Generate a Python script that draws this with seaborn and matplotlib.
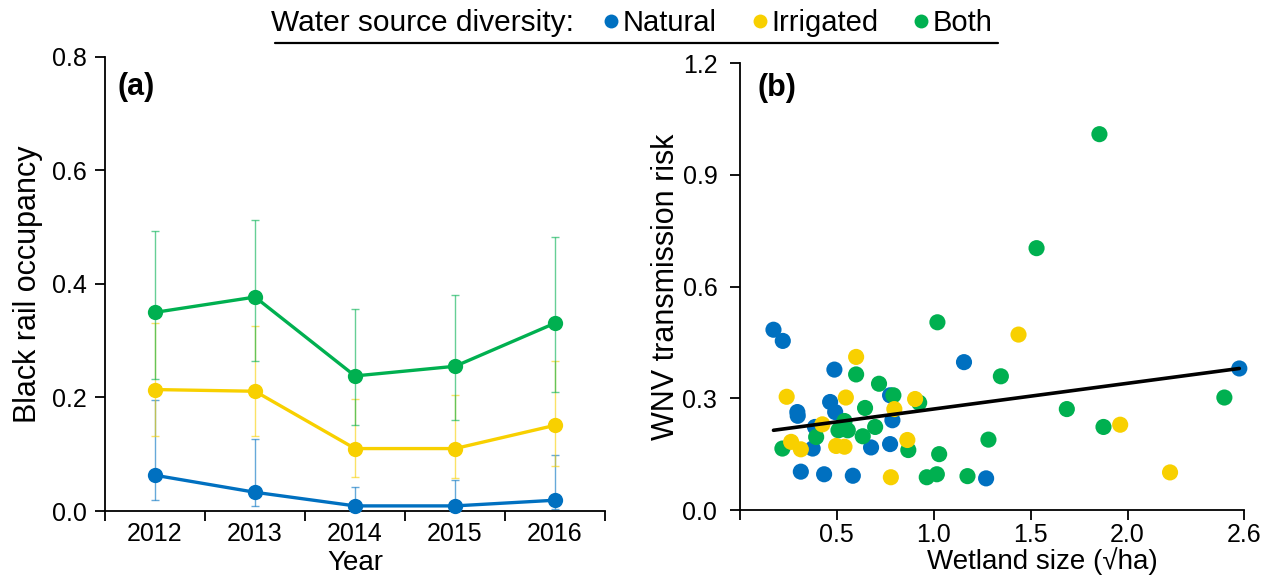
import numpy as np
import pandas as pd
import matplotlib
matplotlib.use("Agg")
import matplotlib.pyplot as plt
from matplotlib.lines import Line2D
import seaborn as sns

# ---------------- data ----------------
years = [2012, 2013, 2014, 2015, 2016]
sources = ["Natural", "Irrigated", "Both"]
colors = {"Natural": "#0070C0", "Irrigated": "#F8D000", "Both": "#00B050"}

occ_natural = [0.063, 0.033, 0.009, 0.009, 0.019]
occ_natural_lo = [0.019, 0.009, 0.001, 0.001, 0.003]
occ_natural_hi = [0.195, 0.126, 0.042, 0.055, 0.098]

occ_irrigated = [0.214, 0.211, 0.110, 0.110, 0.151]
occ_irrigated_lo = [0.132, 0.132, 0.060, 0.058, 0.079]
occ_irrigated_hi = [0.331, 0.326, 0.198, 0.204, 0.265]

occ_both = [0.350, 0.377, 0.238, 0.255, 0.331]
occ_both_lo = [0.233, 0.264, 0.151, 0.160, 0.209]
occ_both_hi = [0.493, 0.512, 0.356, 0.381, 0.483]

wet_natural = [0.175, 0.223, 0.489, 0.298, 0.300, 0.467, 0.493, 0.389, 0.377, 0.776,
               0.788, 0.678, 0.776, 0.316, 0.436, 0.584, 1.157, 1.271, 2.576]
wnv_natural = [0.484, 0.454, 0.377, 0.263, 0.253, 0.290, 0.263, 0.223, 0.165, 0.308,
               0.241, 0.168, 0.177, 0.103, 0.096, 0.092, 0.397, 0.085, 0.380]

wet_irrigated = [0.601, 0.243, 0.548, 0.905, 0.798, 0.427, 0.266, 0.316, 0.498, 0.541,
                 0.865, 0.780, 1.438, 1.962, 2.219]
wnv_irrigated = [0.411, 0.304, 0.302, 0.298, 0.271, 0.230, 0.183, 0.163, 0.172, 0.170,
                 0.188, 0.088, 0.471, 0.229, 0.101]

wet_both = [1.020, 0.601, 0.719, 0.793, 0.926, 0.647, 0.541, 1.347, 0.699, 0.510,
            0.558, 0.395, 0.635, 0.221, 0.870, 1.029, 1.283, 0.965, 1.017, 1.175,
            1.687, 1.876, 2.499, 1.855, 1.531]
wnv_both = [0.504, 0.364, 0.339, 0.308, 0.288, 0.274, 0.239, 0.359, 0.223, 0.214,
            0.214, 0.196, 0.198, 0.165, 0.161, 0.150, 0.189, 0.088, 0.096, 0.091,
            0.271, 0.223, 0.302, 1.009, 0.703]

fit_intercept = 0.202
fit_slope = 0.0691

a_yticks = [0.0, 0.2, 0.4, 0.6, 0.8]
b_yticks = [0.0, 0.3, 0.6, 0.9, 1.2]
b_xticks = [0.0, 0.5, 1.0, 1.5, 2.0, 2.6]
b_xticklabels = ["", "0.5", "1.0", "1.5", "2.0", "2.6"]

# ---------------- tables ----------------
occ = {"Natural": (occ_natural, occ_natural_lo, occ_natural_hi),
       "Irrigated": (occ_irrigated, occ_irrigated_lo, occ_irrigated_hi),
       "Both": (occ_both, occ_both_lo, occ_both_hi)}
rows = []
for s in sources:
    m, lo, hi = occ[s]
    for y, v, l, h in zip(years, m, lo, hi):
        rows.append({"year": y, "source": s, "occ": v, "lo": l, "hi": h})
dfa = pd.DataFrame(rows)

dfb = pd.concat([
    pd.DataFrame({"wet": wet_natural, "wnv": wnv_natural, "source": "Natural"}),
    pd.DataFrame({"wet": wet_both, "wnv": wnv_both, "source": "Both"}),
    pd.DataFrame({"wet": wet_irrigated, "wnv": wnv_irrigated, "source": "Irrigated"}),
], ignore_index=True)

# ---------------- style ----------------
sns.set_style("ticks")
plt.rcParams["font.family"] = ["Liberation Sans", "DejaVu Sans"]
plt.rcParams["axes.linewidth"] = 1.3
for k in ["text.color", "axes.labelcolor", "xtick.color", "ytick.color",
          "axes.edgecolor"]:
    plt.rcParams[k] = "black"

TICK_FS = 18
XLAB_FS = 20
YLAB_FS = 22
LEG_FS = 21

fig = plt.figure(figsize=(12.7, 5.75), dpi=100)
axa = fig.add_axes([0.0827, 0.1113, 0.3937, 0.7896])
axb = fig.add_axes([0.5823, 0.1130, 0.3972, 0.7774])

# ---------------- panel a ----------------
for s in sources:
    d = dfa[dfa.source == s]
    axa.errorbar(d["year"], d["occ"],
                 yerr=[d["occ"] - d["lo"], d["hi"] - d["occ"]],
                 fmt="none", ecolor=colors[s], alpha=0.6, elinewidth=1.0,
                 capsize=3, capthick=1.0, zorder=1, clip_on=False)
sns.lineplot(data=dfa, x="year", y="occ", hue="source", hue_order=sources,
             palette=colors, marker="o", markersize=11, markeredgewidth=0,
             linewidth=2.4, legend=False, ax=axa, zorder=3, clip_on=False)

axa.set_xlim(2011.5, 2016.5)
axa.set_ylim(0, 0.8)
axa.set_xticks(years)
axa.set_xticklabels([str(y) for y in years])
axa.set_xticks([y - 0.5 for y in years] + [years[-1] + 0.5], minor=True)
axa.tick_params(axis="x", which="major", length=0, pad=8, labelsize=TICK_FS)
axa.tick_params(axis="x", which="minor", length=7, width=1.3, direction="out")
axa.set_yticks(a_yticks)
axa.set_yticklabels([f"{v:.1f}" for v in a_yticks])
axa.tick_params(axis="y", length=7, width=1.3, pad=6, labelsize=TICK_FS)
axa.set_xlabel("Year", fontsize=XLAB_FS)
axa.set_ylabel("Black rail occupancy", fontsize=YLAB_FS)
axa.yaxis.set_label_coords(-0.124, 0.5)
axa.xaxis.set_label_coords(0.5, -0.130)
axa.xaxis.label.set_va("baseline")
axa.text(0.024, 0.968, "(a)", transform=axa.transAxes, fontsize=22,
         fontweight="bold", va="top", ha="left")
sns.despine(ax=axa)

# ---------------- panel b ----------------
sns.scatterplot(data=dfb, x="wet", y="wnv", hue="source", palette=colors,
                s=135, linewidth=0, legend=False, ax=axb, zorder=2, clip_on=False)
xfit = np.array([min(dfb["wet"]), max(dfb["wet"])])
sns.lineplot(x=xfit, y=fit_intercept + fit_slope * xfit, color="black",
             linewidth=2.6, ax=axb, zorder=3)

axb.set_xlim(0, 2.6)
axb.set_ylim(0, 1.2)
axb.set_xticks(b_xticks)
axb.set_xticklabels(b_xticklabels)
axb.set_yticks(b_yticks)
axb.set_yticklabels([f"{v:.1f}" for v in b_yticks])
axb.tick_params(axis="both", length=7, width=1.3, labelsize=TICK_FS)
axb.tick_params(axis="y", pad=9)
axb.tick_params(axis="x", pad=2)
axb.set_xlabel("Wetland size (\u221aha)", fontsize=XLAB_FS)
axb.set_ylabel("WNV transmission risk", fontsize=YLAB_FS)
axb.yaxis.set_label_coords(-0.116, 0.5)
axb.xaxis.set_label_coords(0.6, -0.132)
axb.xaxis.label.set_va("baseline")
axb.text(0.035, 0.978, "(b)", transform=axb.transAxes, fontsize=22,
         fontweight="bold", va="top", ha="left")
sns.despine(ax=axb)

# ---------------- legend ----------------
fig.text(0.2134, 0.960, "Water source diversity:", fontsize=LEG_FS + 0.5,
         ha="left", va="center")
handles = [Line2D([], [], linestyle="none", marker="o", markersize=10,
                  markeredgewidth=0, color=colors[s]) for s in sources]
fig.legend(handles, sources, loc="center left", bbox_to_anchor=(0.475, 0.960),
           ncol=3, frameon=False, fontsize=LEG_FS, handlelength=0.55,
           handletextpad=0.12, columnspacing=1.2, borderaxespad=0,
           borderpad=0)
fig.add_artist(Line2D([275 / 1270, 998 / 1270], [1 - 43 / 575, 1 - 43 / 575],
                      color="black", linewidth=1.6, transform=fig.transFigure))

fig.savefig("out.png", dpi=100)
